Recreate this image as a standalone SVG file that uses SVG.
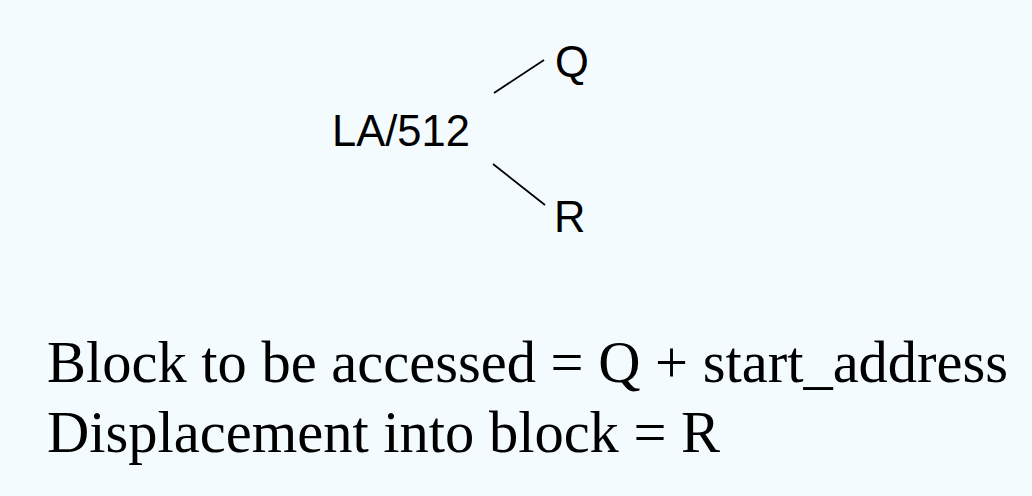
<svg xmlns="http://www.w3.org/2000/svg" width="1032" height="496" viewBox="0 0 1032 496">
<style>
.sans{font-family:"Liberation Sans",Arial,sans-serif;font-size:43.5px;fill:#000}
.serif{font-family:"Liberation Serif","Times New Roman",serif;font-size:58.5px;fill:#000}
.conn{stroke:#000;stroke-width:1.8;fill:none}
</style>
<rect width="1032" height="496" fill="#F3FBFE"/>
<g id="node-la512"><text class="sans" x="332" y="146">LA/512</text></g>
<g id="node-q"><text class="sans" x="555" y="77">Q</text></g>
<g id="node-r"><text class="sans" x="554" y="232">R</text></g>
<g id="connectors">
<line class="conn" x1="494" y1="93" x2="544" y2="60"/>
<line class="conn" x1="493" y1="164" x2="545" y2="205"/>
</g>
<g id="formulas">
<text class="serif" x="47" y="382">Block to be accessed = Q + start_address</text>
<text class="serif" x="47" y="452">Displacement into block = R</text>
</g>
</svg>
